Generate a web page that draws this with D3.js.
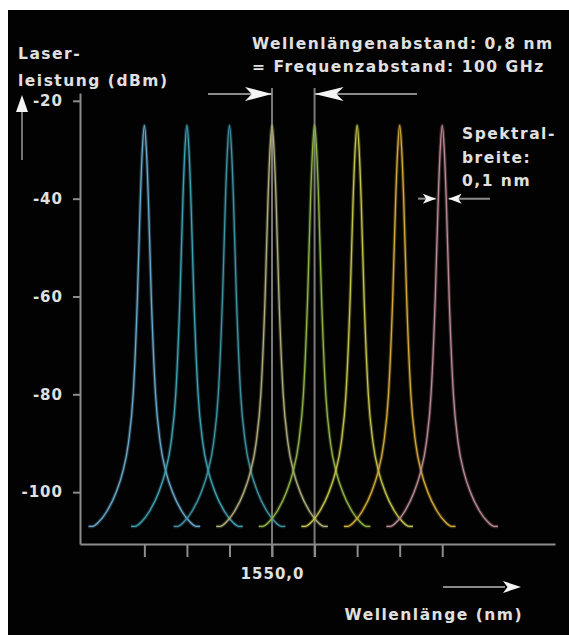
<!DOCTYPE html>
<html>
<head>
<meta charset="utf-8">
<script src="https://cdn.jsdelivr.net/npm/d3@7"></script>
<style>
  body { margin: 0; background: #fff; }
  svg { display: block; }
  .lbl { font-family: "DejaVu Sans", sans-serif; font-weight: bold; fill: #e0e0e0; letter-spacing: 1.5px; }
  .axis text { font-family: "DejaVu Sans", sans-serif; font-weight: bold; font-size: 15px; fill: #e0e0e0; letter-spacing: 1px; }
  .axis path, .axis line { stroke: #8c8c8c; stroke-width: 2; }
</style>
</head>
<body>
<svg id="chart" width="569" height="635"></svg>
<script>
// channel centre wavelengths (nm), 0,8 nm grid
var channelNm = [1547.6, 1548.4, 1549.2, 1550.0, 1550.8, 1551.6, 1552.4, 1553.2];
var channelColors = ["#6aa8cc", "#3ea2b4", "#3f93a2", "#b0ae7c", "#8fb446", "#c4c44a", "#d4aa36", "#bc8a94"];
// one laser line: offset from centre (nm) and power (dBm)
var profileOffset = [-1.05, -0.98, -0.85, -0.71, -0.53, -0.41, -0.30, -0.21, -0.13, -0.075, -0.038, 0,
                     0.038, 0.075, 0.13, 0.21, 0.30, 0.41, 0.53, 0.71, 0.85, 0.98, 1.05];
var profileDbm = [-107, -107, -106, -104, -100, -96, -90, -80, -60, -40, -30, -25,
                  -30, -40, -60, -80, -90, -96, -100, -104, -106, -107, -107];
var yTicks = [-20, -40, -60, -80, -100];
var xLabelNm = 1550.0;

var svg = d3.select("#chart");

svg.append("rect")
    .attr("x", 8).attr("y", 10)
    .attr("width", 561).attr("height", 625)
    .attr("fill", "#020202");

var x = d3.scaleLinear()
    .domain([1546.39, 1555.32])
    .range([80, 555]);

var y = d3.scaleLinear()
    .domain([-110.6, -18.4])
    .range([544, 93]);

// guide lines for the channel spacing
[channelNm[3], channelNm[4]].forEach(function(nm) {
    svg.append("line")
        .attr("x1", x(nm)).attr("x2", x(nm))
        .attr("y1", 88).attr("y2", 557)
        .attr("stroke", "#7a7a7a")
        .attr("stroke-width", 2);
});

var line = d3.line()
    .x(d => x(d[0]))
    .y(d => y(d[1]))
    .curve(d3.curveMonotoneX);

var curves = svg.append("g").attr("class", "curves");
channelNm.forEach(function(nm, i) {
    var pts = profileOffset.map((o, k) => [nm + o, profileDbm[k]]);
    curves.append("path")
        .datum(pts)
        .attr("fill", "none")
        .attr("stroke", channelColors[i])
        .attr("stroke-opacity", 0.3)
        .attr("stroke-width", 3.5)
        .attr("d", line);
    curves.append("path")
        .datum(pts)
        .attr("fill", "none")
        .attr("stroke", channelColors[i])
        .attr("stroke-width", 1.3)
        .attr("d", line);
});

var yAxis = d3.axisLeft(y)
    .tickValues(yTicks)
    .tickFormat(d => String(d))
    .tickSize(7)
    .tickSizeOuter(0)
    .tickPadding(10);

svg.append("g")
    .attr("class", "axis")
    .attr("transform", "translate(80,0)")
    .call(yAxis);

var xAxis = d3.axisBottom(x)
    .tickValues(channelNm)
    .tickFormat(d => d === xLabelNm ? "1550,0" : "")
    .tickSize(13)
    .tickSizeOuter(0)
    .tickPadding(11);

svg.append("g")
    .attr("class", "axis")
    .attr("transform", "translate(0,544)")
    .call(xAxis);

function arrowHead(tipX, tipY, dir, len, half) {
    var bx = tipX - dir * len;
    return "M" + tipX + "," + tipY + "L" + bx + "," + (tipY - half) +
        "L" + (bx + dir * len * 0.25) + "," + tipY + "L" + bx + "," + (tipY + half) + "Z";
}

function arrow(x1, x2, tipX, yy, dir, len, half) {
    svg.append("line")
        .attr("x1", x1).attr("x2", x2)
        .attr("y1", yy).attr("y2", yy)
        .attr("stroke", "#8a8a8a").attr("stroke-width", 2);
    svg.append("path")
        .attr("d", arrowHead(tipX, yy, dir, len, half))
        .attr("fill", "#f4f4f4");
}

// channel spacing arrows
arrow(208, x(channelNm[3]), x(channelNm[3]), 94, 1, 27, 7);
arrow(x(channelNm[4]), 417, x(channelNm[4]), 94, -1, 29, 7);

// spectral width arrows
var lastNm = channelNm[7];
arrow(418, x(lastNm - 0.12), x(lastNm - 0.12), y(-40), 1, 13, 5);
arrow(x(lastNm + 0.12), 490, x(lastNm + 0.12), y(-40), -1, 13, 5);

// y axis arrow
svg.append("line")
    .attr("x1", 22).attr("x2", 22).attr("y1", 108).attr("y2", 160)
    .attr("stroke", "#9a9a9a").attr("stroke-width", 1.5);
svg.append("path")
    .attr("d", "M22,95L28,112L16,112Z")
    .attr("fill", "#f4f4f4");

// x axis arrow
arrow(443, 505, 521, 587, 1, 18, 6);

function label(txt, tx, ty, size, anchor) {
    svg.append("text")
        .attr("class", "lbl")
        .attr("x", tx).attr("y", ty)
        .attr("font-size", size)
        .attr("text-anchor", anchor || "start")
        .text(txt);
}

label("Laser-", 18, 59, 15.5);
label("leistung (dBm)", 18, 86, 15.5);
label("Wellenlängenabstand: 0,8 nm", 252, 49, 15.5);
label("= Frequenzabstand: 100 GHz", 252, 72, 15.5);
label("Spektral-", 462, 139, 15.5);
label("breite:", 462, 163, 15.5);
label("0,1 nm", 462, 186, 15.5);
label("Wellenlänge (nm)", 523, 620, 15.5, "end");
</script>
</body>
</html>
